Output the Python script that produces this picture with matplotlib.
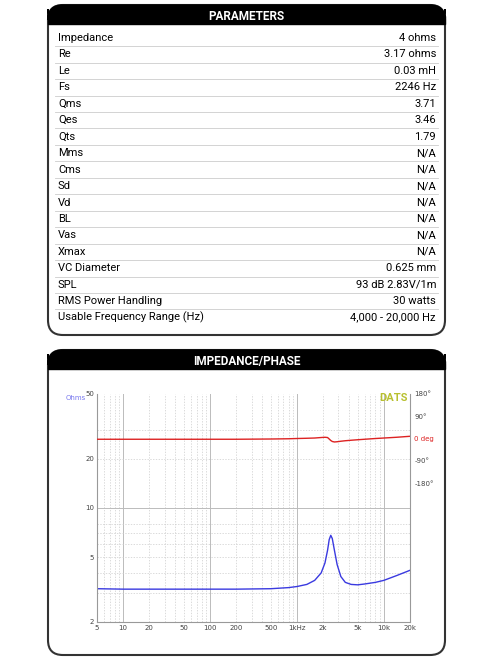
import matplotlib.pyplot as plt
from matplotlib.patches import FancyBboxPatch, Rectangle
from matplotlib.lines import Line2D

W, H = 496, 664
FONT = "Roboto"

param_names = ["Impedance", "Re", "Le", "Fs", "Qms", "Qes", "Qts", "Mms", "Cms", "Sd",
               "Vd", "BL", "Vas", "Xmax", "VC Diameter", "SPL", "RMS Power Handling",
               "Usable Frequency Range (Hz)"]
param_values = ["4 ohms", "3.17 ohms", "0.03 mH", "2246 Hz", "3.71", "3.46", "1.79", "N/A",
                "N/A", "N/A", "N/A", "N/A", "N/A", "N/A", "0.625 mm", "93 dB 2.83V/1m",
                "30 watts", "4,000 - 20,000 Hz"]

freq = [5, 10, 20, 50, 100, 200, 500, 800, 1000, 1300, 1600, 1900, 2100, 2250, 2350, 2450,
        2550, 2700, 2900, 3200, 3600, 4200, 5000, 6000, 8000, 10000, 14000, 20000]
imped = [3.2, 3.18, 3.18, 3.18, 3.18, 3.18, 3.2, 3.25, 3.3, 3.4, 3.6, 4.0, 4.6, 5.5, 6.4, 6.8,
         6.5, 5.5, 4.5, 3.8, 3.5, 3.4, 3.38, 3.42, 3.5, 3.6, 3.85, 4.15]
phase = [-3, -3, -3, -3, -3, -3, -2, -1, 0, 1, 2, 4, 5, 4, -2, -8, -12, -14, -13, -11, -9,
         -7, -5, -3, 0, 2, 5, 9]


def fx(x):
    return x / W


def fy(y):
    return 1 - y / H


fig = plt.figure(figsize=(W / 100, H / 100), dpi=100)


def panel(x0, y0, x1, y1, title):
    fig.patches.append(FancyBboxPatch((fx(x0), fy(y1)), fx(x1 - x0), (y1 - y0) / H,
                                      boxstyle="round,pad=0,rounding_size=0.03",
                                      transform=fig.transFigure, fc="white", ec="#333333",
                                      lw=1.5, mutation_aspect=W / H, zorder=-3))
    fig.patches.append(FancyBboxPatch((fx(x0), fy(y0 + 19)), fx(x1 - x0), 19 / H,
                                      boxstyle="round,pad=0,rounding_size=0.03",
                                      transform=fig.transFigure, fc="black", ec="black",
                                      mutation_aspect=W / H, zorder=-2))
    fig.patches.append(Rectangle((fx(x0), fy(y0 + 19)), fx(x1 - x0), 8 / H,
                                 transform=fig.transFigure, fc="black", ec="black", zorder=-2))
    fig.text(fx((x0 + x1) / 2), fy(y0 + 11), title, color="white", weight="bold",
             fontsize=8.5, ha="center", va="center", family=FONT)


panel(48, 5, 445, 335, "PARAMETERS")
panel(48, 350, 445, 655, "IMPEDANCE/PHASE")

row_h = 16.45
for i, (n, v) in enumerate(zip(param_names, param_values)):
    yc = 38 + i * row_h
    fig.text(fx(58), fy(yc), n, fontsize=8, va="center", family=FONT)
    fig.text(fx(436), fy(yc), v, fontsize=8, va="center", ha="right", family=FONT)
    if i < len(param_names) - 1:
        fig.add_artist(Line2D([fx(55), fx(438)], [fy(yc + row_h / 2)] * 2, color="#cccccc",
                              lw=0.6, transform=fig.transFigure))

ax = fig.add_axes([fx(97), fy(622), fx(410 - 97), (622 - 394) / H])
ax.patch.set_alpha(0)
ax.set_xscale("log")
ax.set_yscale("log")
ax.set_xlim(5, 20000)
ax.set_ylim(2, 50)
ax.plot(freq, imped, color="#3a3ae0", lw=1)
xt = [5, 10, 20, 50, 100, 200, 500, 1000, 2000, 5000, 10000, 20000]
ax.set_xticks(xt)
ax.set_xticklabels(["5", "10", "20", "50", "100", "200", "500", "1kHz", "2k", "5k", "10k", "20k"])
ax.set_yticks([2, 5, 10, 20, 50])
ax.set_yticklabels(["2", "5", "10", "20", "50"])
ax.minorticks_off()
ax.tick_params(labelsize=5, length=0, pad=2, colors="#444444")
for d in [10, 100, 1000, 10000]:
    ax.axvline(d, color="#bbbbbb", lw=0.7, zorder=0)
for d in [6, 7, 8, 9, 20, 30, 40, 50, 60, 70, 80, 90, 200, 300, 400, 500, 600, 700, 800, 900,
          2000, 3000, 4000, 5000, 6000, 7000, 8000, 9000]:
    ax.axvline(d, color="#cccccc", lw=0.5, ls=(0, (2, 2)), zorder=0)
ax.axhline(10, color="#bbbbbb", lw=0.7, zorder=0)
for d in [3, 4, 5, 6, 7, 8, 20, 30]:
    ax.axhline(d, color="#cccccc", lw=0.5, ls=(0, (2, 2)), zorder=0)
for s in ["top", "right"]:
    ax.spines[s].set_visible(False)
for s in ["left", "bottom"]:
    ax.spines[s].set_color("#999999")

ax2 = ax.twinx()
ax2.set_ylim(-742, 180)
ax2.plot(freq, phase, color="#dd2222", lw=1)
ax2.set_yticks([180, 90, 0, -90, -180])
ax2.set_yticklabels(["180°", "90°", "0 deg", "-90°", "-180°"])
ax2.tick_params(labelsize=5, length=0, pad=3, colors="#444444")
ax2.get_yticklabels()[2].set_color("#dd2222")
for s in ["top", "left", "bottom"]:
    ax2.spines[s].set_visible(False)
ax2.spines["right"].set_color("#999999")

fig.text(fx(66), fy(398), "Ohms", color="#7777ee", fontsize=5, va="center")
fig.text(fx(408), fy(398), "DATS", color="#b8c030", fontsize=8, weight="bold",
         ha="right", va="center", family=FONT)

fig.savefig("out.png", dpi=100)
